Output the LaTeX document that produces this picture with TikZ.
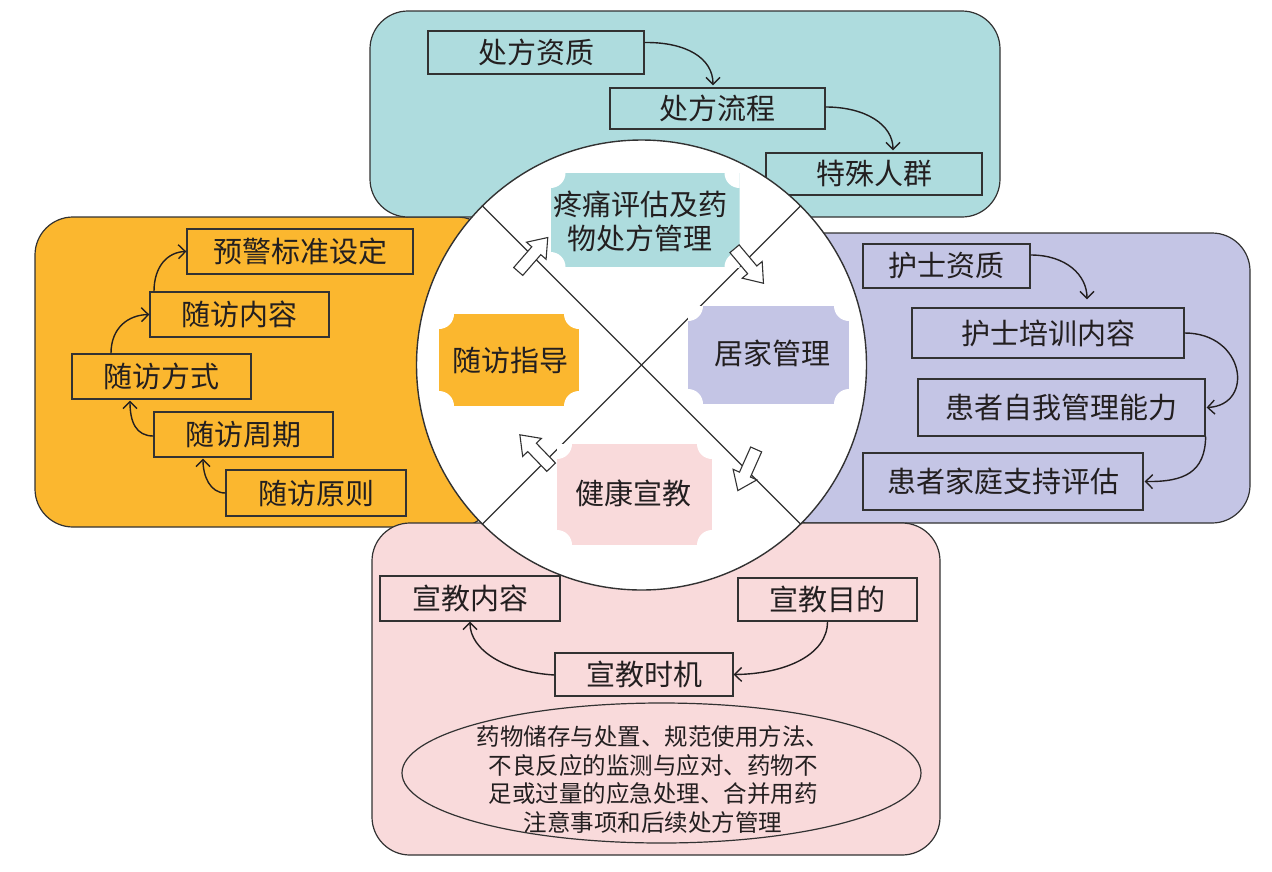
\documentclass[tikz,border=0pt]{standalone}
\usepackage{fontspec}
\setmainfont{Noto Sans CJK SC}
\usetikzlibrary{arrows.meta,shapes.geometric}
\definecolor{cteal}{RGB}{174,220,222}
\definecolor{corange}{RGB}{251,183,47}
\definecolor{cpurple}{RGB}{196,197,229}
\definecolor{cpink}{RGB}{249,218,219}
\definecolor{cline}{RGB}{50,50,50}
\definecolor{ctext}{RGB}{35,31,32}
\newcommand\notchlab[6]{%
  \begin{scope}
    \clip (#2-#4/2,#3-#5/2) rectangle (#2+#4/2,#3+#5/2);
    \fill[#6] (#2-#4/2,#3-#5/2) rectangle (#2+#4/2,#3+#5/2);
    \fill[white] (#2-#4/2,#3-#5/2) circle[radius=15] (#2+#4/2,#3-#5/2) circle[radius=15]
      (#2-#4/2,#3+#5/2) circle[radius=15] (#2+#4/2,#3+#5/2) circle[radius=15];
  \end{scope}}
\newcommand\blockarrow[3]{%
  \begin{scope}[shift={(#1,#2)},rotate=#3]
    \draw[blockarr] (-22.5,-6) -- (5,-6) -- (5,-13) -- (22.5,0) -- (5,13) -- (5,6) -- (-22.5,6) -- cycle;
  \end{scope}}
\begin{document}
\begin{tikzpicture}[x=1pt,y=-1pt,
  region/.style={draw=cline,line width=1.2pt,rounded corners=38pt},
  box/.style={draw=cline,line width=1.3pt,inner sep=0pt,text=ctext,font=\fontsize{29}{34}\selectfont},
  conn/.style={draw=ctext,line width=1.4pt,-{Straight Barb[length=7pt,width=14pt]}},
  lab/.style={inner sep=0pt,text=ctext,font=\fontsize{29}{34}\selectfont,align=center},
  blockarr/.style={draw=cline,fill=white,line width=1.1pt,line join=miter}]
\useasboundingbox (0,0) rectangle (1272,871);
% regions
\path[region,fill=corange] (35,217) rectangle (495,527);
\path[region,fill=cpurple] (770,233) rectangle (1250,523);
\path[region,fill=cteal] (370,11) rectangle (1000,217);
\path[region,fill=cpink] (372,523) rectangle (940,855);
% teal boxes
\node[box,minimum width=216,minimum height=43] (b1) at (536,52.5) {处方资质};
\node[box,minimum width=215,minimum height=41] (b2) at (717.5,108.5) {处方流程};
\node[box,minimum width=216,minimum height=42] (b3) at (874,174) {特殊人群};
\draw[conn] ([yshift=10pt]b1.east) .. controls (686,42) and (713,58) .. ([xshift=-4.5pt,yshift=2pt]b2.north);
\draw[conn] ([yshift=1.5pt]b2.east) .. controls (866,107) and (893,125) .. ([xshift=19pt,yshift=2pt]b3.north);
% orange boxes
\node[box,minimum width=226,minimum height=45] (o1) at (300,251.5) {预警标准设定};
\node[box,minimum width=179,minimum height=45] (o2) at (239.5,314.5) {随访内容};
\node[box,minimum width=179,minimum height=45] (o3) at (161.5,376.5) {随访方式};
\node[box,minimum width=179,minimum height=45] (o4) at (243.5,434.5) {随访周期};
\node[box,minimum width=180,minimum height=46] (o5) at (316,493) {随访原则};
\draw[conn] ([xshift=-50.5pt]o3.north) .. controls (111,328) and (128,315) .. (o2.west);
\draw[conn] ([xshift=-85.5pt]o2.north) .. controls (154,266) and (168,252) .. (o1.west);
\draw[conn] ([yshift=-1.5pt]o4.west) .. controls (136,436) and (130,422) .. ([xshift=-31.5pt,yshift=-1pt]o3.south);
\draw[conn] (o5.west) .. controls (210,493) and (203,476) .. ([xshift=-40.5pt,yshift=-1pt]o4.south);
% purple boxes
\node[box,minimum width=167,minimum height=44] (p1) at (946.5,266) {护士资质};
\node[box,minimum width=272,minimum height=50] (p2) at (1048,333) {护士培训内容};
\node[box,minimum width=287,minimum height=57] (p3) at (1061.5,407.5) {患者自我管理能力};
\node[box,minimum width=280,minimum height=57] (p4) at (1003,481.5) {患者家庭支持评估};
\draw[conn] ([yshift=11pt]p1.east) .. controls (1066,255) and (1087,275) .. ([xshift=39pt,yshift=8pt]p2.north);
\draw[conn] (p2.east) .. controls (1245,333) and (1255,405) .. ([xshift=1pt]p3.east);
\draw[conn] (p3.south east) .. controls (1205,472) and (1185,482) .. ([xshift=1pt]p4.east);
% pink boxes
\node[box,minimum width=180,minimum height=45] (k1) at (470,598.5) {宣教内容};
\node[box,minimum width=179,minimum height=43] (k2) at (827.5,599.5) {宣教目的};
\node[box,minimum width=178,minimum height=43] (k3) at (644,674.5) {宣教时机};
\node[draw=cline,line width=1.2pt,ellipse,minimum width=519,minimum height=140,inner sep=0pt] (e) at (661.5,773) {};
\node[inner sep=0pt,text=ctext,align=center,font=\fontsize{23.5}{28.5}\selectfont] (et) at (653,779.5)
  {药物储存与处置、规范使用方法、\\不良反应的监测与应对、药物不\\足或过量的应急处理、合并用药\\注意事项和后续处方管理};
\draw[conn] (k2.south) .. controls (827.5,655) and (785,674) .. (k3.east);
\draw[conn] ([yshift=-0.5pt]k3.west) .. controls (505,672) and (470,650) .. (k1.south);
% central circle
\node[circle,draw=cline,fill=white,line width=1.4pt,minimum size=450pt,inner sep=0pt] (C) at (641.5,365) {};
\draw[cline,line width=1.3pt] (C.135) -- (C.-45);
\draw[cline,line width=1.3pt] (C.45) -- (C.-135);
% notched labels
\notchlab{lt}{645}{220}{189}{94}{cteal}
\node[lab] (lteal) at (640,221) {疼痛评估及药\\物处方管理};
\notchlab{lo}{509}{360}{140}{92}{corange}
\node[lab] (lorange) at (510,360) {随访指导};
\notchlab{lp}{768.5}{355}{161}{98}{cpurple}
\node[lab] (lpurple) at (772.5,353) {居家管理};
\notchlab{lk}{634.5}{494.5}{155}{101}{cpink}
\node[lab] (lpink) at (633,493) {健康宣教};
% block arrows
\blockarrow{533}{254.5}{49}
\blockarrow{749}{266}{-50}
\blockarrow{747}{470}{-114}
\blockarrow{535.5}{451}{134}
\end{tikzpicture}
\end{document}
